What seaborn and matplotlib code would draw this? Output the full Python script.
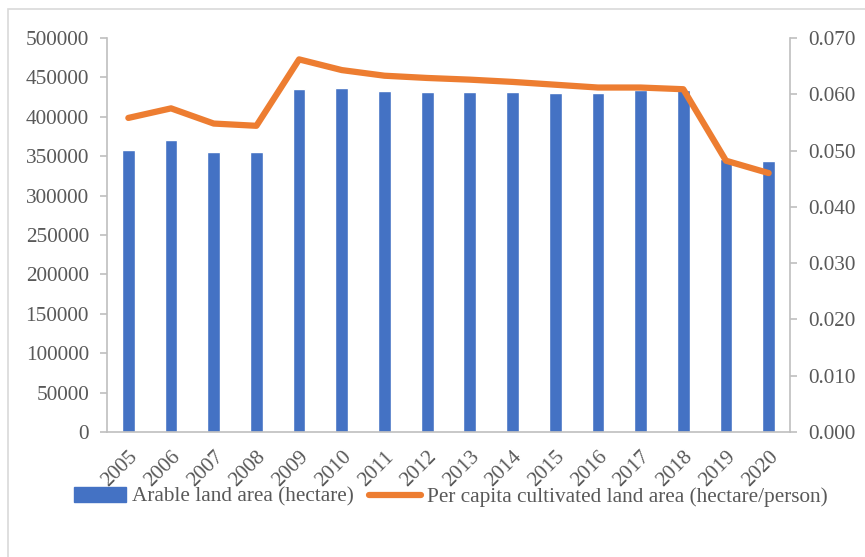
import matplotlib
matplotlib.use("Agg")
import matplotlib.pyplot as plt
import seaborn as sns
import pandas as pd
from matplotlib.patches import Rectangle
from matplotlib.lines import Line2D

years = ["2005", "2006", "2007", "2008", "2009", "2010", "2011", "2012",
         "2013", "2014", "2015", "2016", "2017", "2018", "2019", "2020"]
arable = [358000, 371000, 355500, 355000, 435000, 436500, 432800, 431800,
          431800, 431800, 430500, 430500, 433500, 433500, 346500, 344000]
per_capita = [0.0558, 0.0575, 0.0548, 0.0544, 0.0662, 0.0643, 0.0633, 0.0629,
              0.0626, 0.0622, 0.0617, 0.0612, 0.0612, 0.0609, 0.0482, 0.0460]
left_ticks = [0, 50000, 100000, 150000, 200000, 250000, 300000, 350000, 400000, 450000, 500000]
right_ticks = [0.0, 0.01, 0.02, 0.03, 0.04, 0.05, 0.06, 0.07]

bar_label = "Arable land area (hectare)"
line_label = "Per capita cultivated land area (hectare/person)"

sns.set_theme(style="white")
plt.rcParams['font.family'] = ['Liberation Serif', 'DejaVu Serif']

df = pd.DataFrame({"year": years, "arable": arable, "pc": per_capita})

BLUE = "#4472C4"
ORANGE = "#ED7D31"
TXT = "#595959"
AX = "#BFBFBF"
FS = 15.3

fig = plt.figure(figsize=(8.65, 5.57), dpi=100)
ax = fig.add_axes([107/865, 1-432/557, (790-107)/865, (432-38)/557])

sns.barplot(data=df, x="year", y="arable", color=BLUE, width=0.3, ax=ax,
            saturation=1, zorder=2)
ax.set_ylim(0, 500000)
ax.set_xlim(-0.5, len(years)-0.5)
ax.set_yticks(left_ticks)
ax.set_yticklabels([str(t) for t in left_ticks])
ax.set_xlabel("")
ax.set_ylabel("")

ax2 = ax.twinx()
sns.lineplot(x=list(range(len(years))), y=per_capita, color=ORANGE, linewidth=4.5,
             ax=ax2, zorder=3, solid_capstyle='round', solid_joinstyle='round')
ax2.set_ylim(0, 0.07)
ax2.set_xlim(-0.5, len(years)-0.5)
ax2.set_yticks(right_ticks)
ax2.set_yticklabels([f"{t:.3f}" for t in right_ticks])

for a in (ax, ax2):
    for s in a.spines.values():
        s.set_visible(False)
    a.grid(False)

ax.spines['left'].set_visible(True)
ax.spines['left'].set_color(AX)
ax.spines['bottom'].set_visible(True)
ax.spines['bottom'].set_color(AX)
ax.spines['left'].set_linewidth(1.2)
ax.spines['bottom'].set_linewidth(1.2)
ax2.spines['right'].set_visible(True)
ax2.spines['right'].set_color(AX)
ax2.spines['right'].set_linewidth(1.2)

ax.tick_params(axis='y', which='both', left=True, length=5, width=1.2, color=AX,
               labelsize=FS, labelcolor=TXT, pad=8)
ax.tick_params(axis='x', bottom=False, labelsize=FS, labelcolor=TXT, pad=5)
ax2.tick_params(axis='y', right=True, length=5, width=1.2, color=AX,
                labelsize=FS, labelcolor=TXT, pad=8)
for lab in ax.get_xticklabels():
    lab.set_rotation(45)
    lab.set_ha('right')
    lab.set_va('top')
    lab.set_rotation_mode('anchor')

handles = [Rectangle((0, 0), 1, 1, color=BLUE),
           Line2D([0], [0], color=ORANGE, linewidth=4.5, solid_capstyle='round')]
leg = fig.legend(handles, [bar_label, line_label], loc='center',
                 bbox_to_anchor=(451/865, 1-497/557), ncol=2, frameon=False,
                 fontsize=FS, handlelength=2.45, handletextpad=0.28, columnspacing=0.7)
for t in leg.get_texts():
    t.set_color(TXT)

fig.patches.append(Rectangle((8/865, -0.1), 2.0, (1-9/557)+0.1, transform=fig.transFigure,
                             fill=False, edgecolor="#D9D9D9", linewidth=1.2))

fig.savefig("out.png", dpi=100)
